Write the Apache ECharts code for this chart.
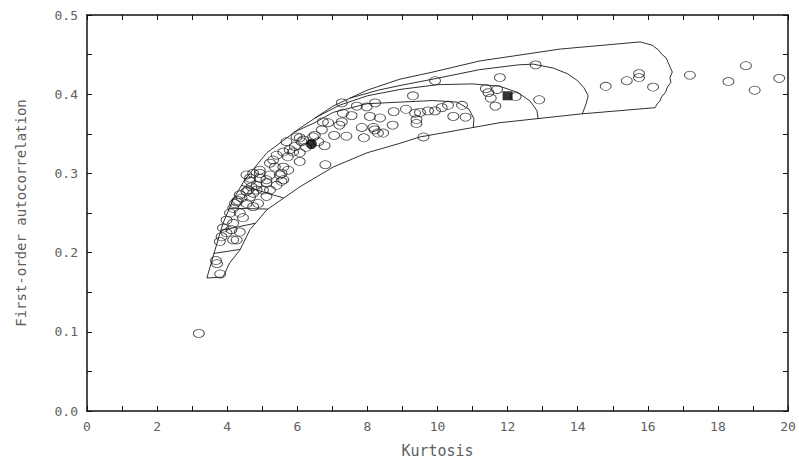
<!DOCTYPE html>
<html>
<head>
<meta charset="utf-8">
<script src="https://cdn.jsdelivr.net/npm/echarts@6/dist/echarts.min.js"></script>
<style>
  html, body { margin: 0; padding: 0; background: #ffffff; }
  #chart { width: 799px; height: 463px; }
</style>
</head>
<body>
<div id="chart"></div>
<script>
// Axis tick labels
const xTickLabels = ['0', '2', '4', '6', '8', '10', '12', '14', '16', '18', '20'];
const yTickLabels = ['0.0', '0.1', '0.2', '0.3', '0.4', '0.5'];

// Observed (kurtosis, first-order autocorrelation) pairs
const observed = [
  [3.19, 0.098], [3.80, 0.173], [3.68, 0.190], [3.71, 0.186],
  [3.79, 0.214], [3.84, 0.220], [3.98, 0.225], [4.17, 0.216], [4.27, 0.216],
  [3.88, 0.231], [4.12, 0.229], [4.36, 0.226], [3.98, 0.241], [4.17, 0.237],
  [4.08, 0.250], [4.36, 0.250], [4.45, 0.244], [4.17, 0.256], [4.27, 0.264],
  [4.55, 0.262], [4.74, 0.258], [4.88, 0.262], [4.22, 0.262], [4.30, 0.266],
  [4.41, 0.269], [4.36, 0.273], [4.65, 0.270], [5.12, 0.271], [4.55, 0.277],
  [4.74, 0.275], [4.60, 0.279], [4.84, 0.279], [5.02, 0.279], [5.22, 0.279],
  [4.69, 0.283], [4.84, 0.285], [5.12, 0.288], [5.41, 0.285], [4.65, 0.290],
  [5.55, 0.290], [5.12, 0.292], [5.60, 0.292], [4.65, 0.294], [4.93, 0.294],
  [4.55, 0.298], [5.22, 0.298], [5.50, 0.298], [4.74, 0.300], [4.93, 0.300],
  [5.55, 0.300], [4.93, 0.304], [5.74, 0.304], [5.36, 0.308], [5.60, 0.308],
  [5.22, 0.313], [5.31, 0.317], [6.07, 0.315], [5.41, 0.323], [5.73, 0.321],
  [5.60, 0.327], [5.88, 0.327], [6.07, 0.326], [5.78, 0.330], [5.93, 0.334],
  [6.25, 0.333], [5.69, 0.340], [6.12, 0.340], [6.17, 0.342], [5.98, 0.346],
  [6.07, 0.345], [6.45, 0.346], [6.60, 0.340], [6.80, 0.311], [6.78, 0.335],
  [6.50, 0.348], [6.70, 0.355], [6.73, 0.365], [6.88, 0.364], [7.20, 0.361],
  [7.27, 0.365], [7.05, 0.348], [7.40, 0.347], [7.30, 0.376], [7.27, 0.389],
  [7.55, 0.373], [7.70, 0.385], [7.98, 0.384], [8.22, 0.389], [8.07, 0.372],
  [8.36, 0.370], [7.84, 0.358], [8.17, 0.358], [7.90, 0.345], [8.21, 0.355],
  [8.30, 0.351], [8.45, 0.351], [8.72, 0.361], [8.75, 0.378], [9.10, 0.381],
  [9.36, 0.376], [9.50, 0.377], [9.73, 0.379], [9.93, 0.379], [10.12, 0.383],
  [10.30, 0.386], [10.70, 0.386], [10.45, 0.372], [10.80, 0.371], [9.40, 0.368],
  [9.40, 0.363], [9.60, 0.346], [9.30, 0.398], [9.93, 0.417], [11.78, 0.421],
  [12.80, 0.437], [11.38, 0.407], [11.45, 0.402], [11.70, 0.406], [11.52, 0.395],
  [11.65, 0.385], [12.23, 0.397], [12.90, 0.393],
  [14.80, 0.410], [15.40, 0.417], [15.75, 0.426], [15.75, 0.421], [16.15, 0.409],
  [17.20, 0.424], [18.30, 0.416], [18.80, 0.436], [19.05, 0.405], [19.75, 0.420]
];

// Highlighted points
const filledCircle = [[6.40, 0.337]];
const filledSquare = [[12.00, 0.398]];

// Outer boundary of the attainable region (closed path)
const outerBoundary = [
  [3.42, 0.168], [3.65, 0.203], [3.88, 0.237], [4.16, 0.266], [4.50, 0.292],
  [5.13, 0.326], [6.07, 0.357], [7.02, 0.385], [7.99, 0.405], [8.93, 0.419],
  [9.87, 0.428], [11.21, 0.442], [13.50, 0.457], [15.78, 0.466], [16.12, 0.462],
  [16.30, 0.456], [16.41, 0.450], [16.52, 0.446], [16.58, 0.440], [16.64, 0.434],
  [16.70, 0.428], [16.63, 0.421], [16.66, 0.415], [16.56, 0.409], [16.50, 0.402],
  [16.40, 0.397], [16.34, 0.391], [16.27, 0.388], [16.21, 0.383],
  [14.07, 0.375], [11.78, 0.364], [9.50, 0.346], [8.93, 0.338], [7.99, 0.326],
  [7.02, 0.308], [6.07, 0.283], [5.13, 0.254], [4.65, 0.229], [4.36, 0.203],
  [4.07, 0.187], [3.88, 0.169], [3.42, 0.168]
];

// Level curves inside the region
const contour1 = [
  [7.50, 0.395], [8.30, 0.405], [8.93, 0.411], [9.87, 0.419], [11.20, 0.431],
  [12.30, 0.437], [12.73, 0.438], [13.30, 0.433], [13.70, 0.426], [14.00, 0.417],
  [14.18, 0.408], [14.30, 0.398], [14.24, 0.388], [14.13, 0.375]
];
const contour2 = [
  [6.50, 0.370], [7.20, 0.386], [8.00, 0.398], [8.93, 0.406], [10.00, 0.412],
  [11.00, 0.413], [11.78, 0.410], [12.30, 0.402], [12.65, 0.391], [12.84, 0.379],
  [12.87, 0.369]
];
const contour3 = [
  [5.90, 0.352], [6.50, 0.364], [7.02, 0.377], [7.99, 0.388], [8.93, 0.390],
  [9.87, 0.392], [10.56, 0.390], [10.90, 0.381], [11.04, 0.369], [11.02, 0.358]
];
const contour4 = [[4.40, 0.285], [5.60, 0.269]];
const contour5 = [[4.05, 0.256], [5.15, 0.255]];
const contour6 = [[3.82, 0.228], [4.80, 0.237]];
const contour7 = [[3.62, 0.199], [4.36, 0.204]];

const lineColor = '#1a1a1a';
const textColor = '#606060';
const fontFamily = '"DejaVu Sans Mono", "Liberation Mono", monospace';

function curve(data) {
  return {
    type: 'line',
    data: data,
    showSymbol: false,
    symbol: 'none',
    smooth: false,
    lineStyle: { color: lineColor, width: 0.9 },
    z: 2,
    silent: true,
    animation: false
  };
}

const chart = echarts.init(document.getElementById('chart'), null, { renderer: 'svg' });

const axisCommon = {
  type: 'value',
  axisLine: { show: true, onZero: false, lineStyle: { color: '#111', width: 1.5 } },
  axisTick: { show: true, inside: true, length: 5, lineStyle: { color: '#111', width: 1 } },
  minorTick: { show: true, splitNumber: 2, length: 5, lineStyle: { color: '#111', width: 1 } },
  splitLine: { show: false },
  minorSplitLine: { show: false }
};

chart.setOption({
  animation: false,
  backgroundColor: '#ffffff',
  grid: { left: 87, right: 11, top: 15, bottom: 52, containLabel: false },
  xAxis: [
    Object.assign({}, axisCommon, {
      position: 'bottom',
      min: 0, max: 20, interval: 2,
      name: 'Kurtosis',
      nameLocation: 'middle',
      nameGap: 32,
      nameTextStyle: { color: textColor, fontFamily: fontFamily, fontSize: 15 },
      axisLabel: {
        color: textColor, fontFamily: fontFamily, fontSize: 13, margin: 9,
        formatter: (v) => xTickLabels[Math.round(v / 2)]
      }
    }),
    Object.assign({}, axisCommon, {
      position: 'top',
      min: 0, max: 20, interval: 2,
      axisLabel: { show: false }
    })
  ],
  yAxis: [
    Object.assign({}, axisCommon, {
      position: 'left',
      min: 0, max: 0.5, interval: 0.1,
      name: 'First-order autocorrelation',
      nameLocation: 'middle',
      nameGap: 59,
      nameTextStyle: { color: textColor, fontFamily: fontFamily, fontSize: 14 },
      axisLabel: {
        color: textColor, fontFamily: fontFamily, fontSize: 13, margin: 9,
        formatter: (v) => yTickLabels[Math.round(v * 10)]
      }
    }),
    Object.assign({}, axisCommon, {
      position: 'right',
      min: 0, max: 0.5, interval: 0.1,
      axisLabel: { show: false }
    })
  ],
  series: [
    curve(outerBoundary),
    curve(contour1),
    curve(contour2),
    curve(contour3),
    curve(contour4),
    curve(contour5),
    curve(contour6),
    curve(contour7),
    {
      type: 'scatter',
      data: observed,
      symbol: 'circle',
      symbolSize: [11, 8],
      itemStyle: { color: 'rgba(0,0,0,0)', borderColor: '#222', borderWidth: 0.9 },
      z: 3,
      silent: true
    },
    {
      type: 'scatter',
      data: filledCircle,
      symbol: 'circle',
      symbolSize: [11, 10],
      itemStyle: { color: '#000' },
      z: 4,
      silent: true
    },
    {
      type: 'scatter',
      data: filledSquare,
      symbol: 'rect',
      symbolSize: [10, 9],
      itemStyle: { color: '#000' },
      z: 4,
      silent: true
    }
  ]
});
</script>
</body>
</html>
